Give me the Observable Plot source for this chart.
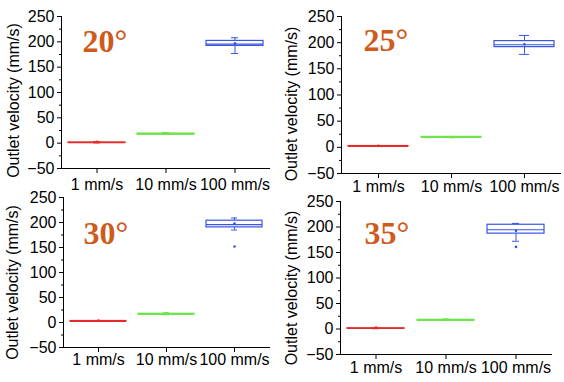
<!DOCTYPE html>
<html>
<head>
<meta charset="utf-8">
<script src="https://cdn.jsdelivr.net/npm/d3@7"></script>
<script src="https://cdn.jsdelivr.net/npm/@observablehq/plot@0.6"></script>
<style>
  html, body { margin: 0; padding: 0; background: #fff; }
  #chart { position: relative; width: 564px; height: 382px; overflow: hidden; }
  #chart svg { position: absolute; overflow: visible; }
</style>
</head>
<body>
<div id="chart"></div>
<script>
// ---- data ----
const categories = ["1 mm/s", "10 mm/s", "100 mm/s"];
const angles = ["20°", "25°", "30°", "35°"];
const seriesColors = ["#e42a2a", "#6ee44a", "#3a55e0"];
const yTicks = [-50, 0, 50, 100, 150, 200, 250];
const yMinorTicks = [-25, 25, 75, 125, 175, 225];
const yLabel = "Outlet velocity (mm/s)";

// box statistics per panel: [1 mm/s, 10 mm/s, 100 mm/s]
const q1s     = [[0.5, 17, 192],   [1.5, 18.5, 191.5], [2, 15.5, 190.2], [0.5, 16.5, 187]];
const medians = [[1, 18, 195.6],   [2, 19, 196],       [2.4, 16.5, 195.6], [1, 17, 194.6]];
const q3s     = [[1.5, 19, 201.8], [2.5, 20, 203],     [3, 17.5, 203.6], [1.5, 18, 204.4]];
const lows    = [[0.5, 17, 177],   [1.5, 18.5, 177.6], [2, 15.5, 185],   [0.5, 16.5, 172]];
const highs   = [[3, 21, 208],     [3.5, 20.5, 213.8], [4, 19.5, 209],   [3, 19.5, 207]];
const means   = [[2.5, 19.5, 197], [3, 19.5, 197],     [4, 19, 198],     [3, 19, 192.5]];
const outlierCats = [[], [], ["100 mm/s"], ["100 mm/s"]];
const outlierVals = [[], [], [152], [161]];

// ---- layout of the four panels ----
const panels = [
  {left: 0,   top: 0,   h: 195, mL: 61, mT: 16, mR: 13, mB: 27, tp: 5, tdx: 21, tdy: 13, ldx: -48, ldy: 8},
  {left: 282, top: 0,   h: 195, mL: 59, mT: 16, mR: 4,  mB: 22, tp: 2, tdx: 22, tdy: 12, ldx: -50, ldy: 9},
  {left: 0,   top: 185, h: 197, mL: 63, mT: 12, mR: 13, mB: 35, tp: 1, tdx: 20, tdy: 24, ldx: -51, ldy: 10},
  {left: 282, top: 185, h: 197, mL: 58, mT: 16, mR: 13, mB: 28, tp: 2, tdx: 24, tdy: 20, ldx: -49, ldy: 10}
];

const chart = document.getElementById("chart");

panels.forEach((p, i) => {
  const rows = categories.map((c, j) => ({
    cat: c, q1: q1s[i][j], med: medians[i][j], q3: q3s[i][j],
    lo: lows[i][j], hi: highs[i][j], mean: means[i][j], color: seriesColors[j]
  }));
  const outs = outlierCats[i].map((c, k) => ({cat: c, v: outlierVals[i][k], color: seriesColors[categories.indexOf(c)]}));

  const svg = Plot.plot({
    width: 282,
    height: p.h,
    marginLeft: p.mL, marginTop: p.mT, marginRight: p.mR, marginBottom: p.mB,
    style: {fontFamily: "'Liberation Sans', Arial, sans-serif", fontSize: "16px", color: "#000", background: "transparent"},
    x: {domain: categories, paddingInner: 0.18, paddingOuter: 0.09, label: null},
    y: {domain: [-50, 250], label: null},
    marks: [
      Plot.axisY({ticks: yMinorTicks, tickSize: 2, tickFormat: () => "", stroke: "#000"}),
      Plot.axisY({ticks: yTicks, tickSize: 4, tickPadding: 3, fontSize: 16, stroke: "#000", fill: "#000"}),
      Plot.axisX({tickSize: 5, tickPadding: p.tp, fontSize: 16, stroke: "#000", fill: "#000"}),
      Plot.frame({anchor: "left", stroke: "#000"}),
      Plot.frame({anchor: "bottom", stroke: "#000"}),
      Plot.ruleX(rows, {x: "cat", y1: "lo", y2: "hi", stroke: d => d.color, strokeWidth: 1}),
      Plot.tickY(rows, {x: "cat", y: "lo", stroke: d => d.color, insetLeft: 25, insetRight: 25}),
      Plot.tickY(rows, {x: "cat", y: "hi", stroke: d => d.color, insetLeft: 25, insetRight: 25}),
      Plot.barY(rows, {x: "cat", y1: "q1", y2: "q3", fill: "white", stroke: d => d.color, strokeWidth: 1.2}),
      Plot.tickY(rows, {x: "cat", y: "med", stroke: d => d.color, strokeWidth: 1.2}),
      Plot.dot(rows, {x: "cat", y: "mean", fill: d => d.color, r: 1.3, stroke: null}),
      Plot.dot(outs, {x: "cat", y: "v", fill: d => d.color, r: 1.3, stroke: null}),
      Plot.text([angles[i]], {
        frameAnchor: "top-left", textAnchor: "start", lineAnchor: "top",
        dx: p.tdx, dy: p.tdy, fill: "#cf5a1c",
        fontFamily: "'Liberation Serif', 'Times New Roman', serif", fontWeight: "bold", fontSize: 32
      }),
      Plot.text([yLabel], {
        frameAnchor: "left", rotate: -90, textAnchor: "middle",
        dx: p.ldx, dy: p.ldy, fontSize: 16, fill: "#000"
      })
    ]
  });
  svg.style.left = p.left + "px";
  svg.style.top = p.top + "px";
  chart.appendChild(svg);
});
</script>
</body>
</html>
